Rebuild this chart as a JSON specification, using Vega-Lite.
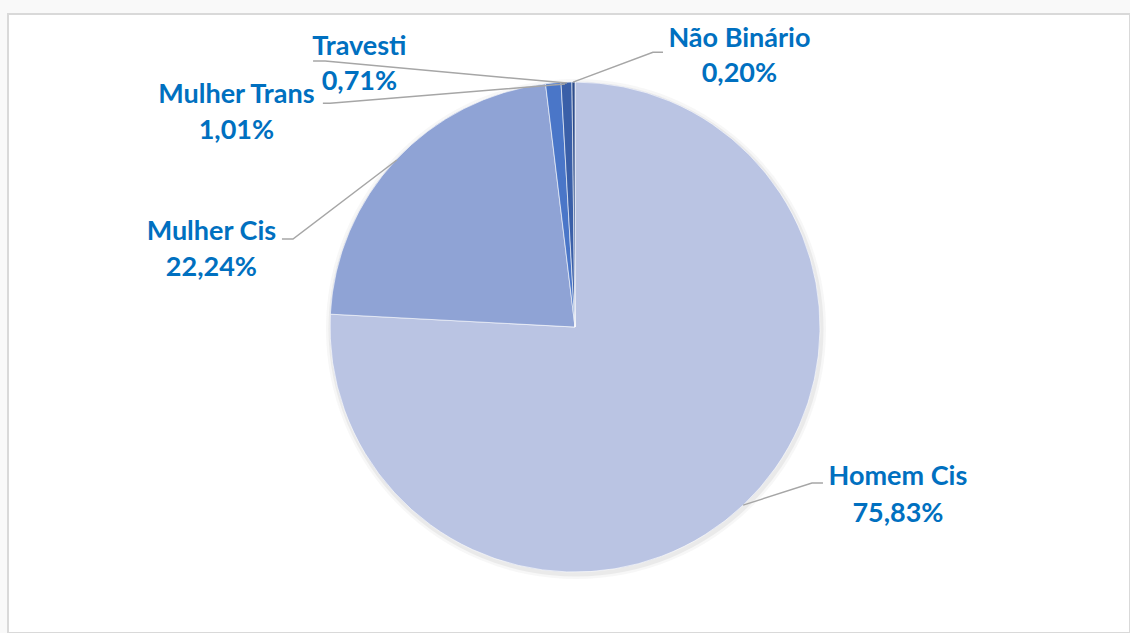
{
  "$schema": "https://vega.github.io/schema/vega-lite/v6.json",
  "width": 1122,
  "height": 619,
  "autosize": {"type": "none"},
  "padding": {"left": 8, "top": 14, "right": 0, "bottom": 0},
  "background": "#f9f9f9",
  "config": {
    "view": {"fill": "white", "stroke": "#d9d9d9", "strokeWidth": 2},
    "text": {"font": "Lato"}
  },
  "datasets": {
    "slices": [
      {"name": "Homem Cis", "value": 75.83, "ord": 1},
      {"name": "Mulher Cis", "value": 22.24, "ord": 2},
      {"name": "Mulher Trans", "value": 1.01, "ord": 3},
      {"name": "Travesti", "value": 0.71, "ord": 4},
      {"name": "Não Binário", "value": 0.20, "ord": 5}
    ],
    "shadow": [{"ring": "a"}],
    "labels": [
      {"name": "Homem Cis", "pct": "75,83%", "lx": 131.8, "ly1": -64.5, "ly2": -79.6},
      {"name": "Mulher Cis", "pct": "22,24%", "lx": -148.4, "ly1": 35.5, "ly2": 20.8},
      {"name": "Mulher Trans", "pct": "1,01%", "lx": -138.2, "ly1": 91.4, "ly2": 76.7},
      {"name": "Travesti", "pct": "0,71%", "lx": -88.0, "ly1": 111.0, "ly2": 96.7},
      {"name": "Não Binário", "pct": "0,20%", "lx": 67.1, "ly1": 114.5, "ly2": 100.0}
    ],
    "leaders": [
      {"name": "Travesti", "seq": 1, "px": -106.9, "py": 108.6},
      {"name": "Travesti", "seq": 2, "px": -102.0, "py": 108.6},
      {"name": "Travesti", "seq": 3, "px": -3.3, "py": 99.6},
      {"name": "Mulher Trans", "seq": 1, "px": -102.9, "py": 91.4},
      {"name": "Mulher Trans", "seq": 2, "px": -100.0, "py": 91.4},
      {"name": "Mulher Trans", "seq": 3, "px": -4.1, "py": 99.2},
      {"name": "Não Binário", "seq": 1, "px": 35.9, "py": 112.2},
      {"name": "Não Binário", "seq": 2, "px": 31.8, "py": 112.2},
      {"name": "Não Binário", "seq": 3, "px": -0.8, "py": 100.0},
      {"name": "Mulher Cis", "seq": 1, "px": -119.6, "py": 35.9},
      {"name": "Mulher Cis", "seq": 2, "px": -115.1, "py": 35.9},
      {"name": "Mulher Cis", "seq": 3, "px": -72.7, "py": 68.2},
      {"name": "Homem Cis", "seq": 1, "px": 101.2, "py": -63.7},
      {"name": "Homem Cis", "seq": 2, "px": 96.7, "py": -63.7},
      {"name": "Homem Cis", "seq": 3, "px": 68.6, "py": -72.7}
    ]
  },
  "resolve": {"scale": {"color": "independent"}},
  "layer": [
    {
      "data": {"name": "shadow"},
      "mark": {"type": "arc", "outerRadius": 250, "theta": 0, "theta2": 6.2832, "fill": "#7f7f7f", "opacity": 0.06, "xOffset": 1, "yOffset": 2},
      "encoding": {
        "x": {"datum": 0, "type": "quantitative", "scale": {"domain": [-231.4, 226.5], "nice": false, "zero": false}, "axis": null},
        "y": {"datum": 0, "type": "quantitative", "scale": {"domain": [-124.9, 127.8], "nice": false, "zero": false}, "axis": null}
      }
    },
    {
      "data": {"name": "shadow"},
      "mark": {"type": "arc", "outerRadius": 247.5, "theta": 0, "theta2": 6.2832, "fill": "#7f7f7f", "opacity": 0.1, "xOffset": 1, "yOffset": 2},
      "encoding": {
        "x": {"datum": 0, "type": "quantitative"},
        "y": {"datum": 0, "type": "quantitative"}
      }
    },
    {
      "data": {"name": "slices"},
      "mark": {"type": "arc", "outerRadius": 245, "stroke": "white", "strokeWidth": 0.6},
      "encoding": {
        "x": {"datum": 0, "type": "quantitative"},
        "y": {"datum": 0, "type": "quantitative"},
        "theta": {"field": "value", "type": "quantitative", "stack": true},
        "order": {"field": "ord", "type": "quantitative"},
        "color": {
          "field": "name", "type": "nominal", "legend": null,
          "scale": {
            "domain": ["Homem Cis", "Mulher Cis", "Mulher Trans", "Travesti", "Não Binário"],
            "range": ["#bac4e3", "#8fa3d5", "#4a76c8", "#3a5fa8", "#2e4d8c"]
          }
        }
      }
    },
    {
      "data": {"name": "leaders"},
      "mark": {"type": "line", "color": "#a6a6a6", "strokeWidth": 1.5},
      "encoding": {
        "x": {"field": "px", "type": "quantitative"},
        "y": {"field": "py", "type": "quantitative"},
        "detail": {"field": "name"},
        "order": {"field": "seq", "type": "quantitative"}
      }
    },
    {
      "data": {"name": "labels"},
      "mark": {"type": "text", "fontSize": 27, "fontWeight": "bold", "color": "#0070c0", "align": "center", "baseline": "alphabetic"},
      "encoding": {
        "x": {"field": "lx", "type": "quantitative"},
        "y": {"field": "ly1", "type": "quantitative"},
        "text": {"field": "name"}
      }
    },
    {
      "data": {"name": "labels"},
      "mark": {"type": "text", "fontSize": 27, "fontWeight": "bold", "color": "#0070c0", "align": "center", "baseline": "alphabetic"},
      "encoding": {
        "x": {"field": "lx", "type": "quantitative"},
        "y": {"field": "ly2", "type": "quantitative"},
        "text": {"field": "pct"}
      }
    }
  ]
}
